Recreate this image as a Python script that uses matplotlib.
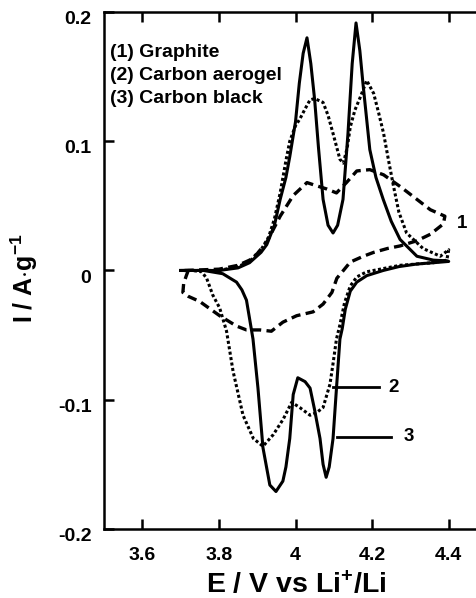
import matplotlib
matplotlib.use("Agg")
import matplotlib.pyplot as plt
from matplotlib.transforms import ScaledTranslation

plt.rcParams['font.family'] = ['Liberation Sans', 'DejaVu Sans']
plt.rcParams['font.weight'] = 'bold'
plt.rcParams['mathtext.fontset'] = 'custom'
plt.rcParams['mathtext.bf'] = 'Liberation Sans:bold'
plt.rcParams['mathtext.rm'] = 'Liberation Sans:bold'
plt.rcParams['mathtext.default'] = 'bf'

# (3) carbon black - solid
e_black = [3.70, 3.80, 3.85, 3.88, 3.91, 3.925, 3.945, 3.96, 3.975, 3.985, 4.00, 4.01, 4.02, 4.03,
           4.04, 4.05, 4.06, 4.072, 4.085, 4.098, 4.11, 4.124, 4.137, 4.148, 4.158, 4.168, 4.176,
           4.194, 4.21, 4.229, 4.25, 4.273, 4.317, 4.36, 4.395,
           4.40, 4.36, 4.317, 4.27, 4.229, 4.186, 4.16, 4.143, 4.13, 4.122, 4.116, 4.107, 4.098,
           4.088, 4.08, 4.072, 4.064, 4.05, 4.038, 4.025, 4.006, 3.994, 3.985, 3.975, 3.967,
           3.949, 3.933, 3.915, 3.902, 3.889, 3.872, 3.86, 3.846, 3.81, 3.76, 3.70]
i_black = [0.0, 0.0, 0.002, 0.006, 0.014, 0.02, 0.035, 0.055, 0.072, 0.088, 0.115, 0.145, 0.168, 0.180,
           0.160, 0.132, 0.095, 0.055, 0.035, 0.029, 0.035, 0.055, 0.106, 0.160, 0.1915, 0.170, 0.145,
           0.0935, 0.072, 0.055, 0.038, 0.024, 0.011, 0.008, 0.0075,
           0.007, 0.006, 0.005, 0.003, 0.0, -0.004, -0.009, -0.016, -0.03, -0.045, -0.053, -0.091, -0.130,
           -0.152, -0.160, -0.150, -0.130, -0.108, -0.091, -0.086, -0.083, -0.096, -0.130, -0.152, -0.163,
           -0.171, -0.166, -0.137, -0.091, -0.053, -0.023, -0.015, -0.009, -0.0025, 0.0, 0.0]

# (2) carbon aerogel - dotted
e_aerogel = [3.70, 3.80, 3.85, 3.88, 3.91, 3.93, 3.945, 3.96, 3.975, 3.985, 4.0, 4.011, 4.025, 4.038,
             4.05, 4.072, 4.085, 4.098, 4.116, 4.125, 4.135, 4.143, 4.155, 4.169, 4.186, 4.204, 4.217,
             4.23, 4.243, 4.256, 4.27, 4.29, 4.333, 4.378, 4.40,
             4.395, 4.36, 4.273, 4.186, 4.16, 4.143, 4.128, 4.116, 4.107, 4.098, 4.09, 4.072, 4.055,
             4.038, 4.011, 3.99, 3.968, 3.942, 3.915, 3.89, 3.863, 3.837, 3.82, 3.802, 3.784, 3.768,
             3.755, 3.73, 3.70]
i_aerogel = [0.0, 0.0, 0.003, 0.007, 0.016, 0.026, 0.04, 0.06, 0.085, 0.1, 0.112, 0.117, 0.125, 0.132,
             0.133, 0.13, 0.12, 0.106, 0.086, 0.083, 0.095, 0.111, 0.124, 0.134, 0.147, 0.137, 0.122,
             0.106, 0.085, 0.065, 0.045, 0.029, 0.017, 0.011, 0.016,
             0.008, 0.006, 0.004, -0.001, -0.005, -0.012, -0.025, -0.042, -0.053, -0.072, -0.088, -0.106,
             -0.110, -0.112, -0.106, -0.102, -0.115, -0.127, -0.136, -0.130, -0.112, -0.078, -0.047,
             -0.029, -0.019, -0.006, -0.001, 0.0, 0.0]

# (1) graphite - dashed
e_graphite = [3.71, 3.80, 3.85, 3.88, 3.90, 3.925, 3.96, 3.994, 4.03, 4.05, 4.082, 4.107, 4.133, 4.16,
              4.194, 4.23, 4.273, 4.317, 4.352, 4.39,
              4.386, 4.352, 4.317, 4.273, 4.24, 4.204, 4.177, 4.143, 4.125, 4.108, 4.095, 4.072, 4.046,
              4.003, 3.967, 3.937, 3.907, 3.872, 3.846, 3.802, 3.75, 3.72, 3.706, 3.708, 3.715, 3.72]
i_graphite = [0.0, 0.001, 0.004, 0.008, 0.013, 0.022, 0.042, 0.058, 0.068, 0.066, 0.063, 0.060, 0.068, 0.077,
              0.078, 0.074, 0.065, 0.055, 0.047, 0.042,
              0.036, 0.028, 0.023, 0.019, 0.017, 0.014, 0.011, 0.0065, 0.0, -0.006, -0.017, -0.026, -0.032,
              -0.035, -0.040, -0.047, -0.046, -0.046, -0.043, -0.035, -0.024, -0.02, -0.017, -0.010, -0.004, 0.0]

legend_lines = ['(1) Graphite', '(2) Carbon aerogel', '(3) Carbon black']
x_ticks = [3.6, 3.8, 4.0, 4.2, 4.4]
x_ticklabels = ['3.6', '3.8', '4', '4.2', '4.4']
y_ticks = [-0.2, -0.1, 0.0, 0.1, 0.2]
y_ticklabels = ['-0.2', '-0.1', '0', '0.1', '0.2']

fig = plt.figure(figsize=(4.77, 5.98), dpi=100)
ax = fig.add_axes([0.218, 0.1154, 0.803, 0.8646])

ax.plot(e_black, i_black, color='black', lw=2.2, solid_joinstyle='round')
ax.plot(e_aerogel, i_aerogel, color='black', lw=2.2, linestyle=(0, (1.0, 0.8)))
ax.plot(e_graphite, i_graphite, color='black', lw=2.4, linestyle=(0, (2.8, 1.6)))

ax.set_xlim(3.5, 4.5)
ax.set_ylim(-0.2, 0.2)
ax.set_xticks(x_ticks)
ax.set_xticklabels(x_ticklabels)
ax.set_yticks(y_ticks)
ax.set_yticklabels(y_ticklabels)
ax.tick_params(direction='in', length=7, width=1.8, top=True, right=True, labelsize=14)
ax.tick_params(axis='x', pad=13)
ax.tick_params(axis='y', pad=9)
for s in ax.spines.values():
    s.set_linewidth(1.8)

# y tick labels sit a little below their ticks in the original
shift = ScaledTranslation(0, -4 / 72, fig.dpi_scale_trans)
for lab in ax.get_yticklabels():
    lab.set_transform(lab.get_transform() + shift)

ax.set_xlabel('E / V vs Li$^{+}$/Li', fontsize=20.5, fontweight='bold', va='center')
ax.xaxis.set_label_coords(0.503, -0.108)
ax.set_ylabel('I / A$\\cdot$g$^{-1}$', fontsize=18, fontweight='bold', va='center')
ax.yaxis.set_label_coords(-0.209, 0.486)

# legend text block
for k, txt in enumerate(legend_lines):
    ax.text(3.5145, 0.169 - k * 0.018, txt, fontsize=14, fontweight='bold', va='center', ha='left')

# curve labels with leaders
ax.plot([4.0975, 4.218], [-0.0902, -0.0902], color='black', lw=2.0)
ax.plot([4.108, 4.249], [-0.1287, -0.1287], color='black', lw=2.0)
ax.text(4.435, 0.0365, '1', fontsize=13.5, fontweight='bold', va='center', ha='center')
ax.text(4.257, -0.0902, '2', fontsize=13.5, fontweight='bold', va='center', ha='center')
ax.text(4.296, -0.1287, '3', fontsize=13.5, fontweight='bold', va='center', ha='center')

fig.savefig('out.png', dpi=100)
